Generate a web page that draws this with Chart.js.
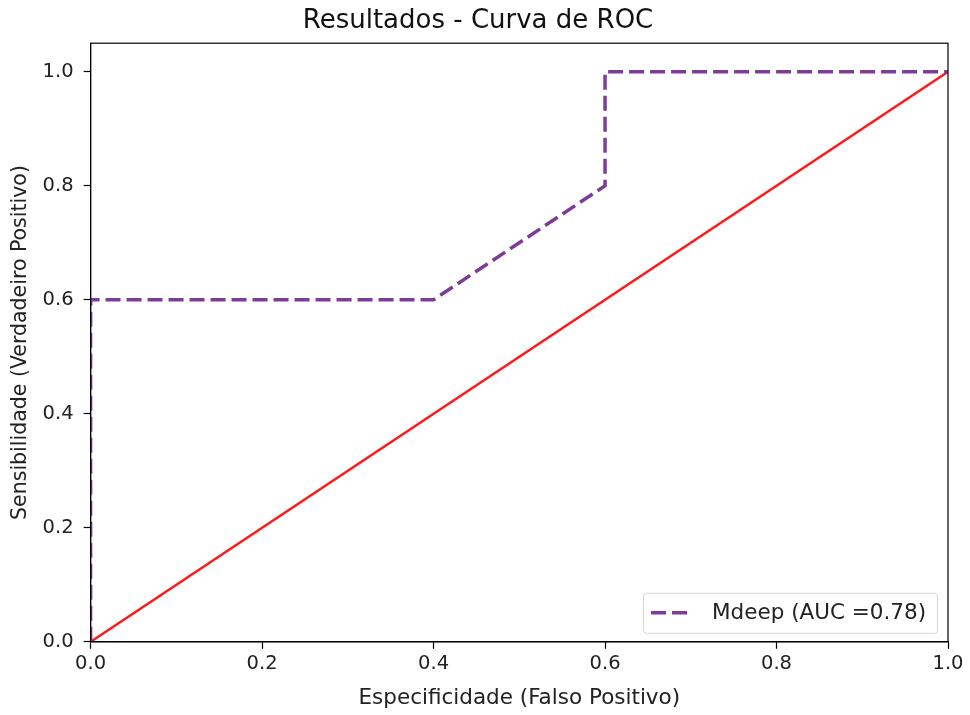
<!DOCTYPE html>
<html>
<head>
<meta charset="utf-8">
<script src="https://cdn.jsdelivr.net/npm/chart.js@4"></script>
<style>
  body { margin: 0; background: #fff; }
  #wrap { width: 970px; height: 715px; }
</style>
</head>
<body>
<div id="wrap"><canvas id="rocChart" width="970" height="715"></canvas></div>
<script>
// Dados da curva ROC
const fpr = [0.0, 0.0, 0.4, 0.6, 0.6, 1.0];
const tpr = [0.0, 0.6, 0.6, 0.8, 1.0, 1.0];
const refX = [0.0, 1.0];
const refY = [0.0, 1.0];
const modelLabel = 'Mdeep (AUC =0.78)';
const xTicks = [0.0, 0.2, 0.4, 0.6, 0.8, 1.0];
const yTicks = [0.0, 0.2, 0.4, 0.6, 0.8, 1.0];

const FONT = "'DejaVu Sans', sans-serif";

function toPoints(xs, ys) {
    return xs.map((x, i) => ({ x: x, y: ys[i] }));
}

// moldura em volta da area do grafico + legenda no canto inferior direito
const boxAndLegend = {
    id: 'boxAndLegend',
    afterDraw(chart) {
        const ctx = chart.ctx;
        const a = chart.chartArea;
        ctx.save();
        ctx.strokeStyle = '#000';
        ctx.lineWidth = 1.2;
        ctx.strokeRect(a.left, a.top, a.right - a.left, a.bottom - a.top);

        const items = chart.data.datasets.filter(d => d.label);
        const w = 294, h = 40;
        const x0 = a.right - 11 - w, y0 = a.bottom - 9 - h;
        ctx.fillStyle = 'rgba(255,255,255,0.8)';
        ctx.strokeStyle = '#d6d6d6';
        ctx.lineWidth = 1;
        ctx.beginPath();
        ctx.roundRect(x0 + 0.5, y0 + 0.5, w, h, 3);
        ctx.fill();
        ctx.stroke();
        items.forEach((d, i) => {
            const cy = y0 + h / 2 + i * 24;
            ctx.strokeStyle = d.borderColor;
            ctx.lineWidth = d.borderWidth;
            ctx.setLineDash(d.borderDash || []);
            ctx.beginPath();
            ctx.moveTo(x0 + 8, cy);
            ctx.lineTo(x0 + 48, cy);
            ctx.stroke();
            ctx.setLineDash([]);
            ctx.fillStyle = '#222';
            ctx.font = '21.5px ' + FONT;
            ctx.textBaseline = 'middle';
            ctx.fillText(d.label, x0 + 69, cy + 1);
        });
        ctx.restore();
    }
};

const ctx = document.getElementById('rocChart').getContext('2d');
new Chart(ctx, {
    type: 'scatter',
    data: {
        datasets: [
            {
                label: modelLabel,
                data: toPoints(fpr, tpr),
                showLine: true,
                borderColor: '#7d3c98',
                borderWidth: 3.5,
                borderDash: [15, 6],
                pointRadius: 0,
                tension: 0,
                clip: 0
            },
            {
                label: '',
                data: toPoints(refX, refY),
                showLine: true,
                borderColor: '#ff1a1a',
                borderWidth: 2.5,
                pointRadius: 0,
                clip: 0
            }
        ]
    },
    options: {
        responsive: false,
        animation: false,
        layout: { padding: { top: 3, right: 22, left: 8, bottom: 4 } },
        plugins: {
            legend: { display: false },
            tooltip: { enabled: false },
            title: {
                display: true,
                text: 'Resultados - Curva de ROC',
                color: '#111',
                font: { family: FONT, size: 26, weight: 'normal' },
                padding: { top: 3, bottom: 6 }
            }
        },
        scales: {
            x: {
                type: 'linear',
                min: 0,
                max: 1,
                afterBuildTicks: axis => { axis.ticks = xTicks.map(v => ({ value: v })); },
                ticks: {
                    color: '#222',
                    font: { family: FONT, size: 19.5 },
                    padding: 3.5,
                    maxRotation: 0,
                    callback: v => v.toFixed(1)
                },
                grid: {
                    drawOnChartArea: false,
                    drawTicks: true,
                    tickLength: 7,
                    tickColor: '#000',
                    tickWidth: 1.2
                },
                border: { color: '#000', width: 1.2 },
                title: {
                    display: true,
                    text: 'Especificidade (Falso Positivo)',
                    color: '#222',
                    font: { family: FONT, size: 21.5 },
                    padding: { top: 6, bottom: 0 }
                }
            },
            y: {
                type: 'linear',
                min: 0,
                max: 1.05,
                afterBuildTicks: axis => { axis.ticks = yTicks.map(v => ({ value: v })); },
                ticks: {
                    color: '#222',
                    font: { family: FONT, size: 19.5 },
                    padding: 10,
                    callback: v => v.toFixed(1)
                },
                grid: {
                    drawOnChartArea: false,
                    drawTicks: true,
                    tickLength: 7,
                    tickColor: '#000',
                    tickWidth: 1.2
                },
                border: { color: '#000', width: 1.2 },
                title: {
                    display: true,
                    text: 'Sensibilidade (Verdadeiro Positivo)',
                    color: '#222',
                    font: { family: FONT, size: 20.5 },
                    padding: { top: 0, bottom: 0 }
                }
            }
        }
    },
    plugins: [boxAndLegend]
});
</script>
</body>
</html>
